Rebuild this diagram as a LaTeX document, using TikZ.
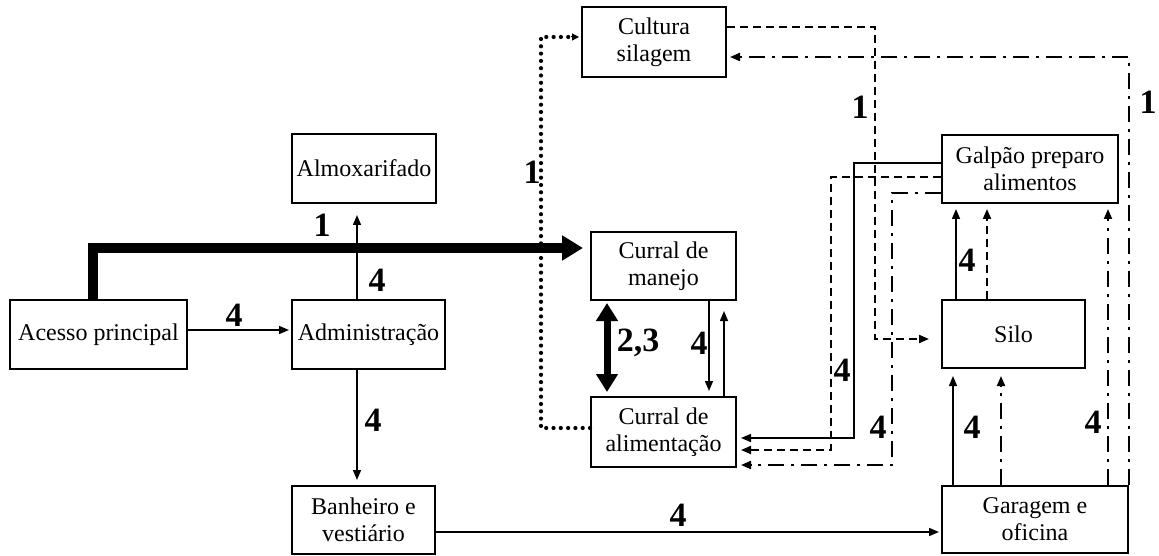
\documentclass[tikz,border=0pt]{standalone}
\usepackage{fontspec}
\setmainfont{Liberation Serif}
\usepackage{tikz}
\usetikzlibrary{arrows.meta}

\tikzset{
  box/.style={draw, line width=2pt, align=center, inner sep=0pt, font=\fontsize{24}{27}\selectfont},
  lbl/.style={inner sep=0pt, font=\fontsize{34}{34}\selectfont\bfseries},
  flow/.style={line width=1.5pt, -{Triangle[length=10pt,width=8pt]}},
  heavy/.style={line width=10.5pt, -{Triangle[length=21pt,width=24pt]}},
  twoway/.style={line width=7pt, {Triangle[length=18pt,width=21pt]}-{Triangle[length=18pt,width=21pt]}},
  dashline/.style={flow, line width=2pt, dash pattern=on 8pt off 5pt},
  dashdot/.style={flow, line width=2pt, dash pattern=on 16pt off 7pt on 3pt off 7pt},
  dotline/.style={line width=4.2pt, line cap=round, dash pattern=on 0pt off 7.3pt},
}

\begin{document}
\begin{tikzpicture}[x=1pt,y=1pt,yscale=-1,xscale=1]
    \useasboundingbox (0,0) rectangle (1159,556);

    %Shape: Rectangle
    \node [box, minimum width=177, minimum height=69] (acesso) at (98.5,334.5) {Acesso principal};
    \node [box, minimum width=153, minimum height=69] (admin) at (368.5,334.5) {Administração};
    \node [box, minimum width=144, minimum height=69] (almox) at (364,168.5) {Almoxarifado};
    \node [box, minimum width=143, minimum height=68] (banheiro) at (363.5,520) {Banheiro e\\vestiário};
    \node [box, minimum width=145, minimum height=68] (manejo) at (663.5,266) {Curral de\\manejo};
    \node [box, minimum width=145, minimum height=70] (alimentacao) at (663.5,432) {Curral de\\alimentação};
    \node [box, minimum width=144, minimum height=70] (cultura) at (654,42) {Cultura\\silagem};
    \node [box, minimum width=176, minimum height=68] (galpao) at (1030,169) {Galpão preparo\\alimentos};
    \node [box, minimum width=143, minimum height=68] (silo) at (1013.5,334) {Silo};
    \node [box, minimum width=186, minimum height=67] (garagem) at (1035,519.5) {Garagem e\\oficina};

    %Straight Lines
    \draw [heavy, shorten >=7pt] ([xshift=-5.5]acesso.north) |- ([yshift=-18]manejo.west);
    \draw [flow, shorten >=2pt] ([yshift=-4.5]acesso.east) -- ([yshift=-4.5]admin.west);
    \draw [flow, shorten >=11pt] ([xshift=-11.5]admin.north) -- ([xshift=-11.5]admin.north |- almox.south);
    \draw [flow, shorten >=5pt] ([xshift=-11.5]admin.south) -- ([xshift=-11.5]admin.south |- banheiro.north);
    \draw [flow, shorten >=2pt] ([yshift=12]banheiro.east) -- ([yshift=12]banheiro.east -| garagem.west);
    \draw [twoway, shorten <=2pt, shorten >=4pt] ([xshift=-56.5]manejo.south) -- ([xshift=-56.5]manejo.south |- alimentacao.north);
    \draw [flow, shorten >=5pt] ([xshift=45.5]manejo.south) -- ([xshift=45.5]manejo.south |- alimentacao.north);
    \draw [flow, shorten >=10pt] ([xshift=60.5]alimentacao.north) -- ([xshift=60.5]alimentacao.north |- manejo.south);

    %Straight Lines
    \draw [dotline] ([yshift=-4]alimentacao.west) -- ++(-49,0) |- ([yshift=-5,xshift=-9]cultura.west);
    \draw [-{Triangle[length=7pt,width=7pt]}, line width=1pt, shorten >=2pt] ([yshift=-5,xshift=-10]cultura.west) -- ([yshift=-5]cultura.west);
    \draw [dashline, shorten >=12pt] ([yshift=-15]cultura.east) -- ++(148,0) |- ([yshift=5]silo.west);
    \draw [dashdot, shorten >=3pt] (garagem.north east) |- ([yshift=15]cultura.east);

    %Straight Lines
    \draw [flow, shorten >=4pt] ([yshift=-6]galpao.west) -- ++(-87,0) |- ([yshift=6]alimentacao.east);
    \draw [dashline, shorten >=4pt] ([yshift=8]galpao.west) -- ++(-110,0) |- ([yshift=18]alimentacao.east);
    \draw [dashdot, shorten >=4pt] ([yshift=24]galpao.west) -- ++(-49,0) |- ([yshift=33]alimentacao.east);

    %Straight Lines
    \draw [flow, shorten >=5pt] ([xshift=-57.5]silo.north) -- ([xshift=-57.5]silo.north |- galpao.south);
    \draw [dashline, shorten >=5pt] ([xshift=-26.5]silo.north) -- ([xshift=-26.5]silo.north |- galpao.south);
    \draw [flow, shorten >=7pt] ([xshift=-82]garagem.north) -- ([xshift=-82]garagem.north |- silo.south);
    \draw [dashdot, shorten >=7pt] ([xshift=-34]garagem.north) -- ([xshift=-34]garagem.north |- silo.south);
    \draw [dashdot, shorten >=5pt] ([xshift=73]garagem.north) -- ([xshift=73]garagem.north |- galpao.south);

    % Text Node
    \node [lbl] (t1) at (322,225) {1};
    \node [lbl] (t2) at (234,315) {4};
    \node [lbl] (t3) at (377,280) {4};
    \node [lbl] (t4) at (373,420) {4};
    \node [lbl] (t5) at (678,515) {4};
    \node [lbl] (t6) at (638,343) {2,3};
    \node [lbl] (t7) at (699,343) {4};
    \node [lbl] (t8) at (532,172) {1};
    \node [lbl] (t9) at (860,107) {1};
    \node [lbl] (t10) at (1148,102) {1};
    \node [lbl] (t11) at (842,370) {4};
    \node [lbl] (t12) at (878,427) {4};
    \node [lbl] (t13) at (967,260) {4};
    \node [lbl] (t14) at (972,427) {4};
    \node [lbl] (t15) at (1093,422) {4};

\end{tikzpicture}
\end{document}
